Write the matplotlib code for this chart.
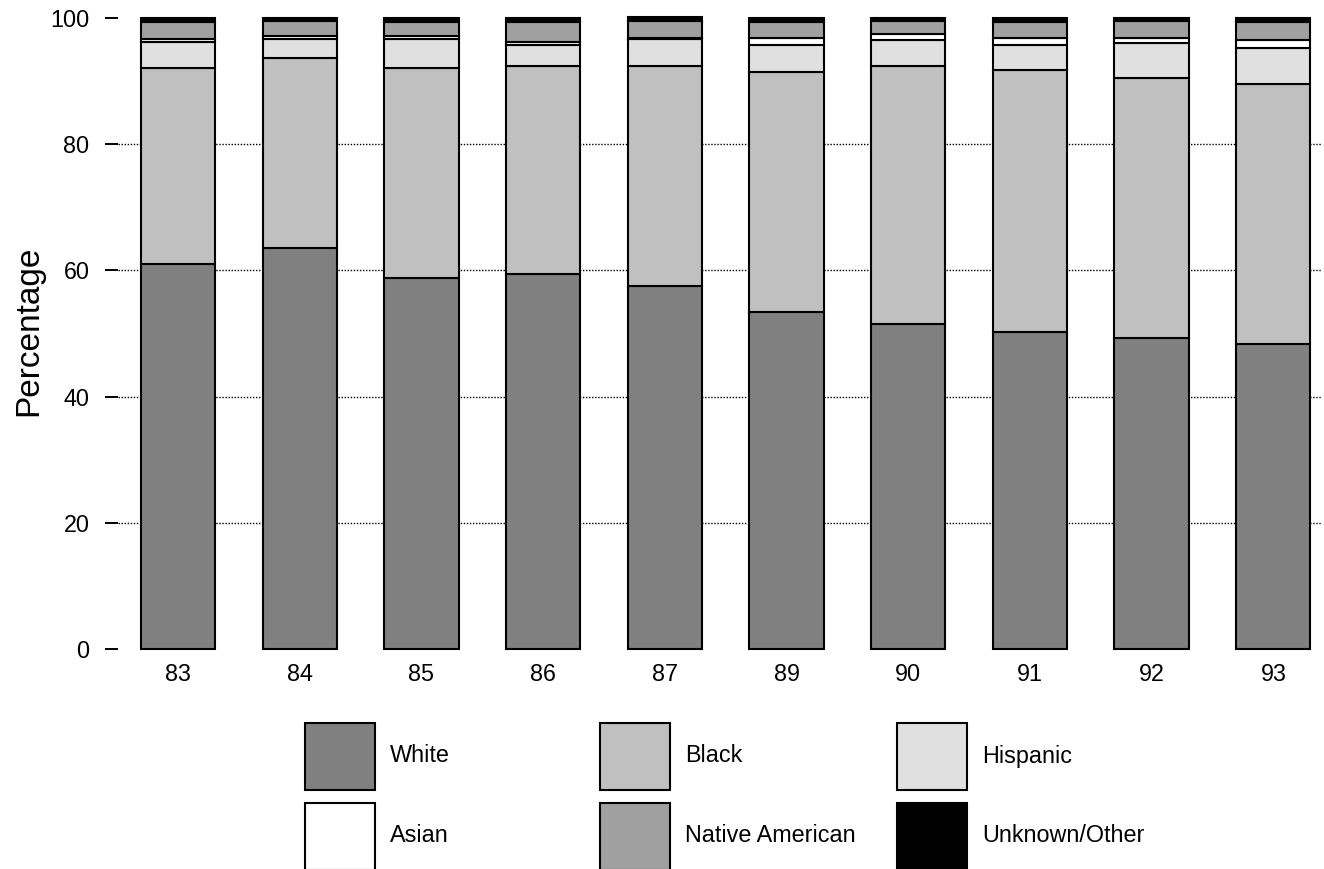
import matplotlib
matplotlib.use("Agg")
import numpy as np
import matplotlib.pyplot as plt
from matplotlib.patches import Rectangle

plt.rcParams["font.family"] = ["Liberation Sans", "DejaVu Sans"]

# survey years and percentage share per group
years = ["83", "84", "85", "86", "87", "89", "90", "91", "92", "93"]
white = [61.0, 63.6, 58.8, 59.5, 57.6, 53.4, 51.5, 50.2, 49.3, 48.4]
black = [31.0, 30.0, 33.2, 32.9, 34.8, 38.0, 40.9, 41.6, 41.2, 41.1]
hispanic = [4.2, 3.0, 4.6, 3.3, 4.3, 4.3, 4.1, 3.9, 5.5, 5.8]
asian = [0.5, 0.6, 0.6, 0.5, 0.2, 1.1, 1.0, 1.1, 0.8, 1.2]
native = [2.7, 2.3, 2.2, 3.2, 2.7, 2.6, 2.1, 2.6, 2.8, 2.8]
unknown = [0.6, 0.5, 0.6, 0.6, 0.6, 0.6, 0.4, 0.6, 0.4, 0.7]

labels = ["White", "Black", "Hispanic", "Asian", "Native American", "Unknown/Other"]
colors = ["#808080", "#c0c0c0", "#e0e0e0", "#ffffff", "#a0a0a0", "#000000"]
series = [white, black, hispanic, asian, native, unknown]
grid_y = [20, 40, 60, 80]

W, H = 1324, 869
FS = 16.8
fig = plt.figure(figsize=(W / 100, H / 100), dpi=100)
ax = fig.add_axes([118 / W, 1 - 649 / H, (1322 - 118) / W, (649 - 18) / H])

for g in grid_y:
    ax.axhline(g, color="black", lw=1.0, ls=(0, (1, 1.2)), zorder=0)

x = np.arange(len(years))
bottom = np.zeros(len(years))
for vals, lab, c in zip(series, labels, colors):
    ax.bar(x, vals, width=0.61, bottom=bottom, color=c, edgecolor="black",
           linewidth=1.5, zorder=2, clip_on=False)
    bottom += np.array(vals)

ax.set_xlim(-0.493, 9.40)
ax.set_ylim(0, 100)
ax.set_xticks(x)
ax.set_xticklabels(years, fontsize=FS)
ax.set_yticks([0, 20, 40, 60, 80, 100])
ax.tick_params(axis="x", length=0, pad=10)
ax.tick_params(axis="y", length=9.5, width=1.4, pad=11, labelsize=FS)
for s in ax.spines.values():
    s.set_visible(False)
ax.set_ylabel("Percentage", fontsize=24)
ax.yaxis.set_label_coords(-0.061, 0.504)

# legend: 3 columns x 2 rows of big swatches below the plot
col_x = [305, 600, 897]
row_y = [723, 803]
for i, (lab, c) in enumerate(zip(labels, colors)):
    cx = col_x[i % 3]
    ry = row_y[i // 3]
    fig.add_artist(Rectangle((cx / W, 1 - (ry + 67) / H), 70 / W, 67 / H,
                             transform=fig.transFigure, facecolor=c,
                             edgecolor="black", linewidth=1.5))
    fig.text((cx + 85) / W, 1 - (ry + 33) / H, lab, fontsize=FS,
             ha="left", va="center")

fig.savefig("out.png", dpi=100)
